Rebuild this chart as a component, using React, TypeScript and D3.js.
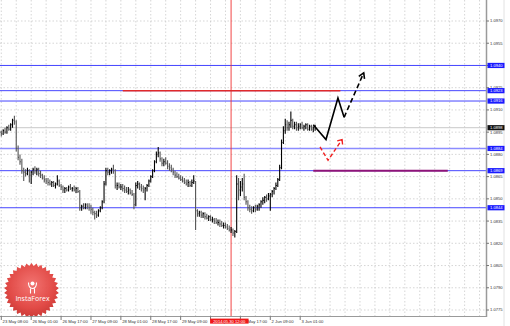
import React from "react";
import * as d3 from "d3";

// ---------- DATA ----------
const firstBar = -1;
const firstOpen = 1.0894;
const highs = [
  1.0897,1.0896,1.0897,1.0898,1.0899,1.0900,1.0901,1.0904,1.0906,1.0903,1.0886,
  1.0880,1.0877,1.0871,1.0870,1.0871,1.0870,1.0869,1.0871,1.0872,1.0871,
  1.0871,1.0869,1.0867,1.0866,1.0864,1.0864,1.0863,1.0862,1.0862,1.0861,
  1.0866,1.0863,1.0860,1.0859,1.0858,1.0858,1.0859,1.0860,1.0858,1.0859,
  1.0858,1.0858,1.0856,1.0846,1.0847,1.0847,1.0847,1.0847,1.0846,1.0844,
  1.0842,1.0842,1.0843,1.0845,1.0849,1.0862,1.0871,1.0871,1.0870,1.0871,
  1.0873,1.0870,1.0861,1.0861,1.0860,1.0860,1.0859,1.0858,1.0858,1.0857,
  1.0856,1.0854,1.0861,1.0862,1.0861,1.0860,1.0859,1.0858,1.0860,1.0863,
  1.0866,1.0870,1.0876,1.0882,1.0885,1.0882,1.0878,1.0877,1.0878,1.0876,
  1.0874,1.0873,1.0871,1.0869,1.0868,1.0867,1.0866,1.0865,1.0864,1.0863,
  1.0863,1.0862,1.0863,1.0866,1.0862,1.0843,1.0842,1.0842,1.0841,1.0841,
  1.0840,1.0839,1.0839,1.0838,1.0837,1.0837,1.0836,1.0836,1.0835,1.0834,
  1.0834,1.0833,1.0832,1.0831,1.0830,1.0829,1.0866,1.0864,1.0862,1.0864,
  1.0867,1.0852,1.0849,1.0846,1.0845,1.0845,1.0846,1.0846,1.0847,1.0849,
  1.0851,1.0852,1.0853,1.0854,1.0854,1.0856,1.0858,1.0861,1.0864,1.0873,
  1.0890,1.0899,1.0904,1.0903,1.0902,1.0909,1.0904,1.0902,1.0902,1.0901,
  1.0901,1.0902,1.0900,1.0901,1.0901,1.0900,1.0900,1.0899,1.0900,
];
const lows = [
  1.0893,1.0892,1.0893,1.0894,1.0894,1.0896,1.0896,1.0898,1.0900,1.0882,1.0876,
  1.0873,1.0867,1.0862,1.0865,1.0866,1.0861,1.0860,1.0866,1.0867,1.0866,
  1.0865,1.0864,1.0863,1.0861,1.0860,1.0859,1.0859,1.0858,1.0858,1.0857,
  1.0859,1.0858,1.0856,1.0854,1.0854,1.0855,1.0855,1.0856,1.0855,1.0855,
  1.0854,1.0854,1.0842,1.0842,1.0843,1.0843,1.0843,1.0842,1.0840,1.0839,
  1.0836,1.0837,1.0838,1.0841,1.0843,1.0847,1.0859,1.0866,1.0866,1.0867,
  1.0867,1.0857,1.0856,1.0857,1.0856,1.0855,1.0854,1.0854,1.0853,1.0853,
  1.0852,1.0843,1.0845,1.0857,1.0856,1.0855,1.0854,1.0849,1.0855,1.0858,
  1.0861,1.0864,1.0868,1.0874,1.0878,1.0875,1.0872,1.0872,1.0873,1.0870,
  1.0869,1.0868,1.0866,1.0864,1.0864,1.0863,1.0862,1.0861,1.0860,1.0859,
  1.0858,1.0858,1.0858,1.0860,1.0829,1.0838,1.0838,1.0837,1.0837,1.0836,
  1.0836,1.0835,1.0835,1.0834,1.0833,1.0833,1.0832,1.0831,1.0831,1.0830,
  1.0830,1.0829,1.0828,1.0827,1.0825,1.0824,1.0827,1.0849,1.0852,1.0855,
  1.0849,1.0846,1.0842,1.0841,1.0840,1.0841,1.0841,1.0842,1.0842,1.0844,
  1.0846,1.0847,1.0848,1.0849,1.0842,1.0851,1.0853,1.0856,1.0858,1.0862,
  1.0870,1.0887,1.0894,1.0896,1.0896,1.0898,1.0897,1.0897,1.0896,1.0896,
  1.0897,1.0897,1.0896,1.0897,1.0896,1.0896,1.0896,1.0895,1.0896,
];
const closes = [
  1.0895,1.0894,1.0896,1.0895,1.0898,1.0897,1.0900,1.0903,1.0902,1.0884,1.0878,
  1.0875,1.0869,1.0868,1.0867,1.0869,1.0866,1.0868,1.0870,1.0869,1.0870,
  1.0867,1.0866,1.0864,1.0863,1.0862,1.0861,1.0860,1.0861,1.0859,1.0860,
  1.0862,1.0859,1.0858,1.0856,1.0857,1.0856,1.0858,1.0857,1.0857,1.0856,
  1.0857,1.0855,1.0844,1.0845,1.0844,1.0846,1.0845,1.0844,1.0843,1.0841,
  1.0840,1.0839,1.0842,1.0844,1.0848,1.0860,1.0869,1.0868,1.0869,1.0870,
  1.0869,1.0859,1.0859,1.0858,1.0858,1.0857,1.0856,1.0855,1.0856,1.0854,
  1.0853,1.0846,1.0859,1.0860,1.0858,1.0857,1.0856,1.0857,1.0859,1.0862,
  1.0865,1.0869,1.0875,1.0880,1.0881,1.0877,1.0874,1.0875,1.0874,1.0872,
  1.0871,1.0870,1.0868,1.0866,1.0865,1.0864,1.0863,1.0862,1.0861,1.0860,
  1.0861,1.0859,1.0861,1.0862,1.0842,1.0840,1.0841,1.0839,1.0840,1.0838,
  1.0837,1.0838,1.0836,1.0836,1.0835,1.0834,1.0834,1.0833,1.0832,1.0832,
  1.0831,1.0830,1.0829,1.0829,1.0827,1.0828,1.0860,1.0856,1.0858,1.0860,
  1.0851,1.0848,1.0844,1.0843,1.0842,1.0844,1.0843,1.0845,1.0846,1.0848,
  1.0849,1.0851,1.0850,1.0852,1.0853,1.0855,1.0857,1.0859,1.0863,1.0871,
  1.0888,1.0896,1.0900,1.0898,1.0900,1.0903,1.0899,1.0900,1.0898,1.0899,
  1.0900,1.0898,1.0899,1.0900,1.0897,1.0899,1.0897,1.0898,1.0898,
];

const timeLabels = [
  "23 May 08:00", "26 May 01:00", "26 May 17:00", "27 May 09:00", "28 May 01:00",
  "28 May 17:00", "29 May 09:00", "30 May 01:00", "30 May 17:00", "2 Jun 09:00", "3 Jun 01:00",
];
const barsPerLabel = 16;
const priceTicks = [1.0775, 1.079, 1.0805, 1.082, 1.0835, 1.085, 1.0865, 1.088, 1.0895, 1.091, 1.0925, 1.094, 1.0955, 1.097, 1.0985];
const levelPrices = [1.094, 1.0923, 1.0916, 1.0884, 1.0869, 1.0844];
const currentPrice = 1.0898;
const redLevel = { price: 1.0923, from: 65, to: 181.5 };
const purpleLevel = { price: 1.0869, from: 167, to: 239 };
const crossBar = 123;
const crossLabel = "2014.05.30 12:00";
const blackSolidPath: [number, number][] = [[167, 1.09], [173.8, 1.089], [180.2, 1.0918], [183.5, 1.0905]];
const blackDashedPath: [number, number][] = [[183.5, 1.0905], [194, 1.0935]];
const redPath: [number, number][] = [[170.6, 1.0885], [174.9, 1.0876], [182.4, 1.089]];

const W = 510, H = 326;
const plotR = 486.5, plotB = 316.5;
const FONT = "'Liberation Sans', Arial, sans-serif";

function arrowHead(p: [number, number][], len: number, ang: number) {
  const [x1, y1] = p[p.length - 2];
  const [x2, y2] = p[p.length - 1];
  const a = Math.atan2(y1 - y2, x1 - x2);
  const w1 = [x2 + len * Math.cos(a + ang), y2 + len * Math.sin(a + ang)];
  const w2 = [x2 + len * Math.cos(a - ang), y2 + len * Math.sin(a - ang)];
  return `M${w1[0]},${w1[1]}L${x2},${y2}L${w2[0]},${w2[1]}`;
}

export default function App() {
  const x = d3.scaleLinear().domain([0, 160]).range([1.3, 300.2]);
  const y = d3.scaleLinear().domain([1.0775, 1.097]).range([310, 21]);
  const line = d3.line<[number, number]>().x((d) => x(d[0])).y((d) => y(d[1]));

  const bars = closes.map((c, k) => ({
    i: firstBar + k,
    o: k === 0 ? firstOpen : closes[k - 1],
    h: highs[k],
    l: lows[k],
    c,
  }));

  const gridX = d3.range(0, 264, 8).map((i) => x(i)).filter((v) => v < plotR);

  const toPx = (p: [number, number][]) => p.map((d) => [x(d[0]), y(d[1])] as [number, number]);
  const blackAll = toPx([...blackSolidPath, ...blackDashedPath.slice(1)]);
  const redPx = toPx(redPath);

  const cx = 31.5, cy = 290.5, N = 34;
  const starPts = d3.range(N * 2).map((k) => {
    const a = (k * Math.PI) / N;
    const r = k % 2 === 0 ? 27.5 : 24.5;
    return [a, r] as [number, number];
  });
  const star = d3.lineRadial<[number, number]>().angle((d) => d[0]).radius((d) => d[1]).curve(d3.curveLinearClosed)(starPts) || "";

  return (
    <svg width={W} height={H} style={{ position: "absolute", left: 0, top: 0, background: "#fff" }} fontFamily={FONT}>
      <defs>
        <clipPath id="plot">
          <rect x={0} y={0} width={plotR} height={plotB} />
        </clipPath>
        <radialGradient id="logoG" cx="50%" cy="40%" r="60%">
          <stop offset="0%" stopColor="#f26d6a" />
          <stop offset="70%" stopColor="#e0413d" />
          <stop offset="100%" stopColor="#c8302c" />
        </radialGradient>
      </defs>
      <rect x={0} y={0} width={W} height={H} fill="#fff" />
      <g clipPath="url(#plot)">
        {priceTicks.map((p) => (
          <line key={"gy" + p} x1={0} x2={plotR} y1={y(p)} y2={y(p)} stroke="#c4c4c4" strokeWidth={0.7} strokeDasharray="1.5,2" />
        ))}
        {gridX.map((gx, k) => (
          <line key={"gx" + k} x1={gx} x2={gx} y1={0} y2={plotB} stroke="#c4c4c4" strokeWidth={0.7} strokeDasharray="1.5,2" />
        ))}
        <line x1={0} x2={plotR} y1={y(currentPrice)} y2={y(currentPrice)} stroke="#c8c8c8" strokeWidth={1} />
        {levelPrices.map((p) => (
          <line key={"lv" + p} x1={0} x2={plotR} y1={y(p)} y2={y(p)}
            stroke={p === 1.0884 ? "#8c8cff" : "#4646ff"} strokeWidth={p === 1.0884 ? 1.6 : 1} />
        ))}
        <line x1={x(crossBar)} x2={x(crossBar)} y1={0} y2={plotB} stroke="#f03030" strokeWidth={0.9} />
        {bars.map((b) => (
          <g key={b.i} stroke={b.c >= b.o ? "#000" : "#555"} strokeWidth={1.1}>
            <line x1={x(b.i)} x2={x(b.i)} y1={y(b.h)} y2={y(b.l)} />
            <line x1={x(b.i)} x2={x(b.i) + 0.9} y1={y(b.c)} y2={y(b.c)} />
          </g>
        ))}
        <line x1={x(redLevel.from)} x2={x(redLevel.to)} y1={y(redLevel.price)} y2={y(redLevel.price)} stroke="#e02a2a" strokeWidth={1.5} />
        <line x1={x(purpleLevel.from)} x2={x(purpleLevel.to)} y1={y(purpleLevel.price)} y2={y(purpleLevel.price)} stroke="#8e1478" strokeWidth={2} />
        <path d={line(blackSolidPath) || ""} fill="none" stroke="#000" strokeWidth={1.6} />
        <path d={line(blackDashedPath) || ""} fill="none" stroke="#000" strokeWidth={1.6} strokeDasharray="5,3" />
        <path d={arrowHead(blackAll, 6, 0.55)} fill="none" stroke="#000" strokeWidth={1.6} />
        <path d={line(redPath) || ""} fill="none" stroke="#f02020" strokeWidth={1.4} strokeDasharray="4,2.5" />
        <path d={arrowHead(redPx, 5, 0.7)} fill="none" stroke="#f02020" strokeWidth={1.4} />
        <g transform={`translate(${cx},${cy})`}>
          <path d={star} fill="url(#logoG)" opacity={0.95} />
          <g fill="none" stroke="#fff" strokeWidth={1.1}>
            <circle cx={1} cy={-7} r={2} fill="#fff" stroke="none" />
            <path d="M-3,-8 Q-3,-2 1,-2 Q5,-2 5,-8" />
            <path d="M-1,-2 L-1,3 M3,-2 L3,3" />
          </g>
          <text x={1} y={10.5} textAnchor="middle" fontSize={7} fill="#fff" fontFamily="'Open Sans', sans-serif">InstaForex</text>
        </g>
      </g>
      <line x1={plotR} x2={plotR} y1={0} y2={plotB + 0.5} stroke="#9a9a9a" strokeWidth={1.5} />
      <line x1={0} x2={plotR} y1={plotB} y2={plotB} stroke="#9a9a9a" strokeWidth={1} />
      <line x1={504} x2={504} y1={0} y2={H} stroke="#e2e2e2" strokeWidth={1} />
      {priceTicks.map((p) => (
        <g key={"pt" + p}>
          <line x1={plotR} x2={plotR + 2.5} y1={y(p)} y2={y(p)} stroke="#555" strokeWidth={0.8} />
          <text x={490} y={y(p)} dy="0.35em" fontSize={4.1} fill="#333">{p.toFixed(4)}</text>
        </g>
      ))}
      {levelPrices.map((p) => (
        <g key={"lb" + p}>
          <rect x={487.5} y={y(p) - 2.6} width={17} height={5.2} fill="#1a1aff" />
          <text x={490} y={y(p)} dy="0.35em" fontSize={4.1} fill="#fff">{p.toFixed(4)}</text>
        </g>
      ))}
      <rect x={487.5} y={y(currentPrice) - 2.6} width={17} height={5.2} fill="#111" />
      <text x={490} y={y(currentPrice)} dy="0.35em" fontSize={4.1} fill="#fff">{currentPrice.toFixed(4)}</text>
      {timeLabels.map((t, k) => (
        <g key={t}>
          <line x1={x(k * barsPerLabel)} x2={x(k * barsPerLabel)} y1={plotB} y2={plotB + 3.5} stroke="#555" strokeWidth={0.8} />
          <text x={x(k * barsPerLabel) + 1.3} y={322.6} fontSize={4.2} fill="#333">{t}</text>
        </g>
      ))}
      <rect x={x(crossBar) - 21} y={318.6} width={38.5} height={5} fill="#f01818" />
      <text x={x(crossBar) - 1.8} y={321.1} dy="0.35em" textAnchor="middle" fontSize={4.1} fill="#fff">{crossLabel}</text>
    </svg>
  );
}
